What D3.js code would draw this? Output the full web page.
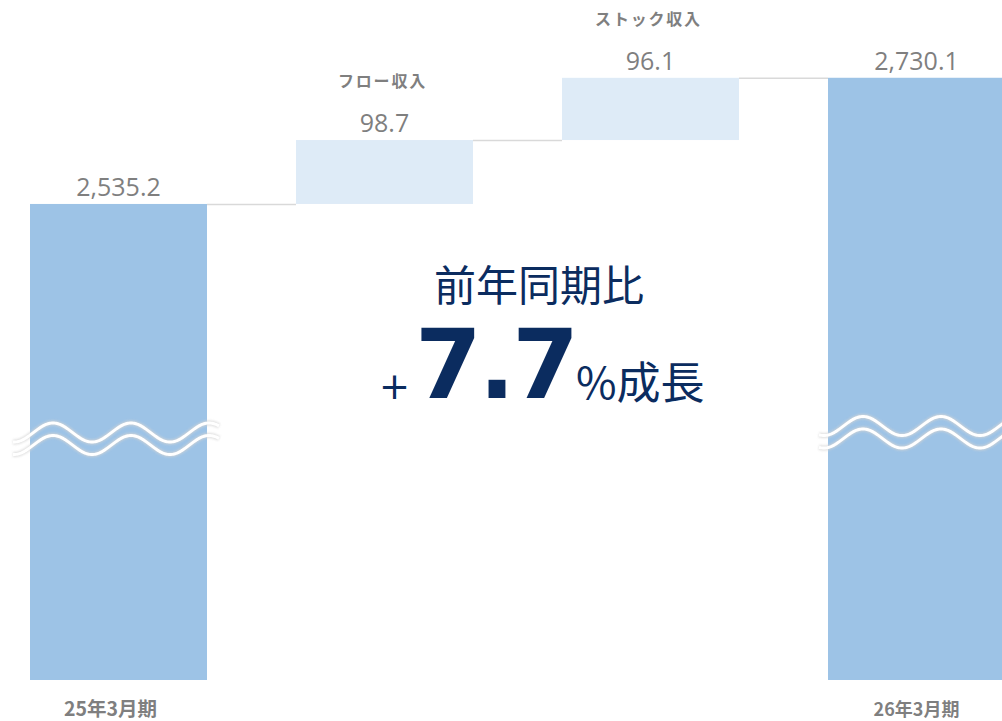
<!DOCTYPE html>
<html>
<head>
<meta charset="utf-8">
<script src="https://cdn.jsdelivr.net/npm/d3@7"></script>
<style>
html,body{margin:0;padding:0;background:#fff;}
svg{display:block;}
</style>
</head>
<body>
<svg id="chart" width="1002" height="721"></svg>
<script>
// ---- data ----
const categories = ["25年3月期", "フロー収入", "ストック収入", "26年3月期"];
const values = [2535.2, 98.7, 96.1, 2730.1];
const kinds = ["total", "delta", "delta", "total"];
const valueLabels = ["2,535.2", "98.7", "96.1", "2,730.1"];
const axisDomain = [1800, 2800]; // broken (truncated) value axis
const headline = "前年同期比";
const growthSign = "+";
const growthValue = "7.7";
const growthSuffix = "%成長";

// ---- layout ----
const svg = d3.select("#chart");
const x = d3.scaleBand().domain(categories).range([30, 1005]).paddingInner(0.3346).paddingOuter(0);
const y = d3.scaleLinear().domain(axisDomain).range([680, 32.5]);

const greyText = "#7f7f7f";
const navy = "#0b2c5f";
const darkBar = "#9dc3e6";
const lightBar = "#deebf7";

// compute waterfall segments
let running = 0;
const bars = categories.map((c, i) => {
  let start, end;
  if (kinds[i] === "total") { start = axisDomain[0]; end = values[i]; running = values[i]; }
  else { start = running; end = running + values[i]; running = end; }
  return { cat: c, kind: kinds[i], start, end, label: valueLabels[i], idx: i };
});

// connectors
const conn = svg.append("g");
for (let i = 0; i < bars.length - 1; i++) {
  conn.append("line")
    .attr("x1", x(bars[i].cat) + x.bandwidth())
    .attr("x2", x(bars[i + 1].cat))
    .attr("y1", y(bars[i].end) + 0.5)
    .attr("y2", y(bars[i].end) + 0.5)
    .attr("stroke", "#d9d9d9")
    .attr("stroke-width", 1.5);
}

// bars
svg.append("g").selectAll("rect").data(bars).join("rect")
  .attr("x", d => x(d.cat))
  .attr("width", x.bandwidth())
  .attr("y", d => y(Math.max(d.start, d.end)))
  .attr("height", d => Math.abs(y(d.start) - y(d.end)))
  .attr("fill", d => d.kind === "total" ? darkBar : lightBar);

// value labels
svg.append("g").selectAll("text").data(bars).join("text")
  .attr("x", d => x(d.cat) + x.bandwidth() / 2)
  .attr("y", d => y(d.end) - 8)
  .attr("text-anchor", "middle")
  .attr("font-family", "'Open Sans', 'Noto Sans', sans-serif")
  .attr("font-size", 25)
  .attr("fill", greyText)
  .text(d => d.label);

// delta category labels (above)
svg.append("g").selectAll("text").data(bars.filter(d => d.kind === "delta")).join("text")
  .attr("x", d => x(d.cat) + x.bandwidth() / 2 - 2)
  .attr("y", d => y(d.end) - 53)
  .attr("text-anchor", "middle")
  .attr("font-family", "'Noto Sans CJK JP', sans-serif")
  .attr("font-weight", "bold")
  .attr("font-size", 16)
  .attr("letter-spacing", 1.8)
  .attr("fill", greyText)
  .text(d => d.cat);

// total category labels (bottom)
svg.append("g").selectAll("text").data(bars.filter(d => d.kind === "total")).join("text")
  .attr("x", d => x(d.cat) + x.bandwidth() / 2 + (d.idx === 0 ? -8 : 0))
  .attr("y", 716)
  .attr("text-anchor", "middle")
  .attr("font-family", "'Noto Sans CJK JP', sans-serif")
  .attr("font-weight", "bold")
  .attr("font-size", d => d.idx === 0 ? 19.5 : 18)
  .attr("fill", greyText)
  .text(d => d.cat);

// wave break marks on total bars (decoration)
const defs = svg.append("defs");
const f = defs.append("filter").attr("id", "blur").attr("x", "-10%").attr("y", "-50%").attr("width", "120%").attr("height", "200%");
f.append("feGaussianBlur").attr("stdDeviation", 1.2);

function wavePath(x0, x1, yc, phase, period, amp) {
  const pts = d3.range(x0, x1 + 0.5, 1).map(px => [px, yc - amp * Math.cos(2 * Math.PI * (px - phase) / period)]);
  return d3.line()(pts);
}
const waveGroup = svg.append("g");
bars.filter(d => d.kind === "total").forEach((d, i) => {
  const bx = x(d.cat);
  const phase = bx + (i === 0 ? 23 : 35);
  const yc = i === 0 ? 432.5 : 426;
  const x0 = bx - (i === 0 ? 17 : 9);
  [0, 12.5].forEach(off => {
    const p = wavePath(x0, bx + x.bandwidth() + 12, yc + off, phase, 78, 9.5);
    waveGroup.append("path").attr("d", p).attr("fill", "none")
      .attr("stroke", "#d4d4d4").attr("stroke-width", 5).attr("opacity", 0.75).attr("filter", "url(#blur)");
    waveGroup.append("path").attr("d", p).attr("fill", "none")
      .attr("stroke", "#ffffff").attr("stroke-width", 3);
  });
});

// central annotation
const ann = svg.append("g").attr("fill", navy);
ann.append("text")
  .attr("x", 539).attr("y", 301)
  .attr("text-anchor", "middle")
  .attr("font-family", "'Noto Sans CJK JP', sans-serif")
  .attr("font-size", 42)
  .text(headline);
ann.append("text")
  .attr("x", 379).attr("y", 399)
  .attr("font-family", "'DejaVu Sans', sans-serif")
  .attr("font-size", 37)
  .text(growthSign);
ann.append("text")
  .attr("x", 415).attr("y", 398)
  .attr("font-family", "'DejaVu Sans', sans-serif")
  .attr("font-weight", "bold")
  .attr("font-size", 96)
  .attr("letter-spacing", -3)
  .text(growthValue);
ann.append("text")
  .attr("x", 576).attr("y", 399)
  .attr("font-family", "'Noto Sans CJK JP', sans-serif")
  .attr("font-size", 44)
  .text(growthSuffix);
</script>
</body>
</html>
